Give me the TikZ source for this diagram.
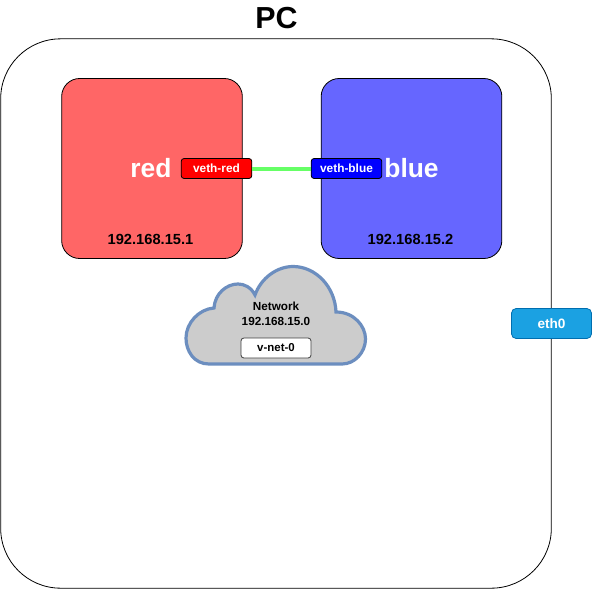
\documentclass[tikz,border=0pt]{standalone}
\usepackage{fontspec}
\setmainfont{Liberation Sans}
\definecolor{redfill}{HTML}{FF6666}
\definecolor{bluefill}{HTML}{6666FF}
\definecolor{linkgreen}{HTML}{66FF66}
\definecolor{cloudline}{HTML}{6C8EBF}
\definecolor{cloudfill}{HTML}{CCCCCC}
\definecolor{ethfill}{HTML}{1BA1E2}
\definecolor{ethline}{HTML}{006EAF}
\tikzset{
  x=0.75pt,y=-0.75pt,
  box/.style={draw=black,line width=0.6pt,rounded corners=#1,inner sep=0pt,anchor=center},
  host/.style={box=13.5pt,minimum width=135.5pt,minimum height=135pt},
  veth/.style={box=2.2pt,minimum width=53pt,minimum height=15pt,text=white,font=\bfseries\fontsize{8.9}{10}\selectfont},
  hostname/.style={text=white,font=\bfseries\fontsize{19.8}{22}\selectfont,inner sep=0pt},
  addr/.style={text=black,font=\bfseries\fontsize{11}{13}\selectfont,inner sep=0pt},
}
\begin{document}
\begin{tikzpicture}
\useasboundingbox (0,0) rectangle (592,589);
\node[box=45pt,minimum width=413pt,minimum height=412pt,fill=white] (pc) at (276,313.5) {};
\node[inner sep=0pt,font=\bfseries\fontsize{22.8}{24}\selectfont] (pclabel) at (276.5,18.5) {PC};
\node[host,fill=redfill] (red) at (152,168.5) {};
\node[host,fill=bluefill] (blue) at (411.5,168.5) {};
\node[hostname] (redname) at (151,168) {red};
\node[hostname] (bluename) at (411.5,168) {blue};
\node[addr] (redaddr) at (150.5,239) {192.168.15.1};
\node[addr] (blueaddr) at (410.5,239) {192.168.15.2};
\node[veth,fill=red] (vethred) at (216.5,168.5) {veth-red};
\node[veth,fill=blue] (vethblue) at (346.5,168.5) {veth-blue};
\draw[linkgreen,line width=3pt] (vethred) -- (vethblue);
\draw[cloudline,fill=cloudfill,line width=2.4pt]
  (209,364) .. controls (194,364) and (186,351) .. (186,338)
  .. controls (186,323) and (199,309) .. (214,308)
  .. controls (215,293) and (227,284) .. (238,284)
  .. controls (244,284) and (251,287) .. (255,295)
  .. controls (261,278) and (277,266.5) .. (293,266.5)
  .. controls (316,266.5) and (335,287) .. (336,312)
  .. controls (354,312) and (365.5,326) .. (365.5,339)
  .. controls (365.5,352) and (355,364) .. (342,364)
  -- cycle;
\node[inner sep=0pt,align=center,font=\bfseries\fontsize{8.8}{11.2}\selectfont] (netlabel) at (276,313.5) {Network\\192.168.15.0};
\node[box=2.2pt,fill=white,draw=black!75,minimum width=52.5pt,minimum height=15pt,font=\bfseries\fontsize{8.6}{10}\selectfont] (vnet) at (276,348) {v-net-0};
\node[box=3.5pt,draw=ethline,fill=ethfill,text=white,minimum width=60pt,minimum height=22.5pt,font=\bfseries\fontsize{10.2}{12}\selectfont] (eth) at (551.5,323.5) {eth0};
\end{tikzpicture}
\end{document}
